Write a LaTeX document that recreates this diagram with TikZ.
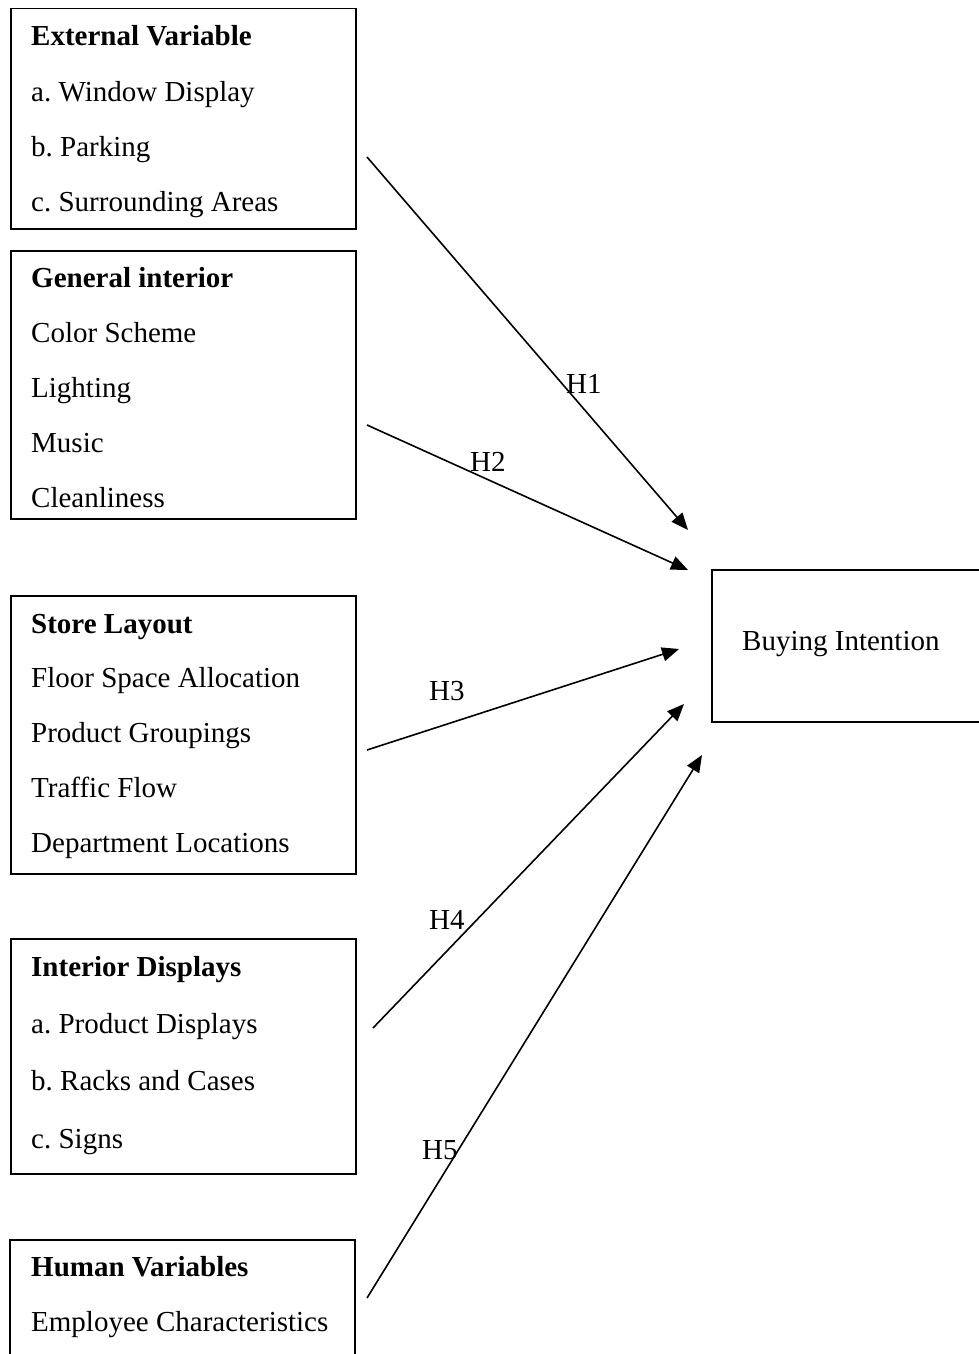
\documentclass[tikz,border=0pt]{standalone}
\usepackage{fontspec}
\setmainfont{Liberation Serif}
\usetikzlibrary{arrows.meta}
\begin{document}
\frenchspacing
\begin{tikzpicture}[x=1pt,y=-1pt,
  box/.style={draw,line width=1.5pt,rectangle,anchor=north west,inner sep=0pt},
  txt/.style={anchor=base west,inner sep=0pt,font=\fontsize{29}{34}\selectfont},
  hlab/.style={anchor=base west,inner sep=0pt,font=\fontsize{29}{34}\selectfont},
  link/.style={line width=1.6pt,-{Triangle[length=17pt,width=14pt]}}]
\useasboundingbox (0,0) rectangle (979,1354);
% boxes
\node[box,minimum width=345pt,minimum height=220pt] (b1) at (10,8) {};
\node[box,minimum width=345pt,minimum height=268pt] (b2) at (10,250) {};
\node[box,minimum width=345pt,minimum height=278pt] (b3) at (10,595) {};
\node[box,minimum width=345pt,minimum height=235pt] (b4) at (10,938) {};
\draw[line width=1.5pt] (10,1362) -- (10,1240) -- (355,1240) -- (355,1362);
\coordinate (b5) at (10,1240);
\draw[line width=1.5pt] (985,570) -- (712,570) -- (712,722) -- (985,722);
\node[txt] (bi) at (742,650) {Buying Intention};
% box texts
\node[txt] (t11) at (31,46) {\textbf{External Variable}};
\node[txt] (t12) at (31,101) {a. Window Display};
\node[txt] (t13) at (31,156) {b. Parking};
\node[txt] (t14) at (31,211) {c. Surrounding Areas};
\node[txt] (t21) at (31,287) {\textbf{General interior}};
\node[txt] (t22) at (31,342) {Color Scheme};
\node[txt] (t23) at (31,397) {Lighting};
\node[txt] (t24) at (31,452) {Music};
\node[txt] (t25) at (31,507) {Cleanliness};
\node[txt] (t31) at (31,633) {\textbf{Store Layout}};
\node[txt] (t32) at (31,687) {Floor Space Allocation};
\node[txt] (t33) at (31,742) {Product Groupings};
\node[txt] (t34) at (31,797) {Traffic Flow};
\node[txt] (t35) at (31,852) {Department Locations};
\node[txt] (t41) at (31,976) {\textbf{Interior Displays}};
\node[txt] (t42) at (31,1033) {a. Product Displays};
\node[txt] (t43) at (31,1090) {b. Racks and Cases};
\node[txt] (t44) at (31,1148) {c. Signs};
\node[txt] (t51) at (31,1276) {\textbf{Human Variables}};
\node[txt] (t52) at (31,1331) {Employee Characteristics};
% arrow end points
\coordinate (s1) at (367,157);  \coordinate (e1) at (688,530);
\coordinate (s2) at (367,425);  \coordinate (e2) at (688,570);
\coordinate (s3) at (367,750);  \coordinate (e3) at (679,649);
\coordinate (s4) at (373,1028); \coordinate (e4) at (684,704);
\coordinate (s5) at (367,1298); \coordinate (e5) at (702,755);
\draw[link] (s1) -- (e1);
\draw[link] (s2) -- (e2);
\draw[link] (s3) -- (e3);
\draw[link] (s4) -- (e4);
\draw[link] (s5) -- (e5);
% labels
\node[hlab] (h1) at (566,393) {H1};
\node[hlab] (h2) at (470,471) {H2};
\node[hlab] (h3) at (429,700) {H3};
\node[hlab] (h4) at (429,929) {H4};
\node[hlab] (h5) at (422,1159) {H5};
\end{tikzpicture}
\end{document}
